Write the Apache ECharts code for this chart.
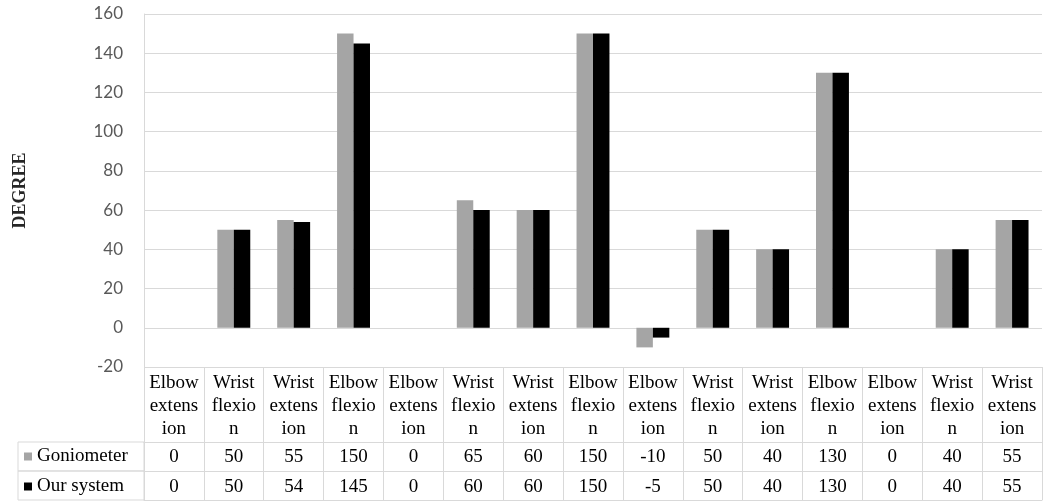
<!DOCTYPE html>
<html>
<head>
<meta charset="utf-8">
<script src="https://cdn.jsdelivr.net/npm/echarts@6/dist/echarts.min.js"></script>
<style>html,body{margin:0;padding:0;background:#fff}#c{width:1043px;height:501px}</style>
</head>
<body>
<div id="c"></div>
<script>
var categories = ["Elbow\nextens\nion","Wrist\nflexio\nn","Wrist\nextens\nion","Elbow\nflexio\nn","Elbow\nextens\nion","Wrist\nflexio\nn","Wrist\nextens\nion","Elbow\nflexio\nn","Elbow\nextens\nion","Wrist\nflexio\nn","Wrist\nextens\nion","Elbow\nflexio\nn","Elbow\nextens\nion","Wrist\nflexio\nn","Wrist\nextens\nion"];
var goniometer = [0,50,55,150,0,65,60,150,-10,50,40,130,0,40,55];
var ourSystem = [0,50,54,145,0,60,60,150,-5,50,40,130,0,40,55];
var seriesNames = ["Goniometer","Our system"];
var yTicks = {min:-20, max:160, interval:20};

var LINE = '#d9d9d9';
var SERIF = 'Liberation Serif';
var SANS = 'Lato';
var FS = 19;
var chart = echarts.init(document.getElementById('c'), null, {renderer:'canvas'});
var hiddenY = function(g){ return {type:'value', gridIndex:g, show:false}; };
function legendFor(name, top){
  return {
    data:[name], orient:'horizontal', left:24, top:top, icon:'rect',
    itemWidth:8, itemHeight:8, selectedMode:false, padding:0,
    textStyle:{fontFamily:SERIF, fontSize:FS, color:'#000'}
  };
}
var option = {
  animation:false,
  backgroundColor:'#fff',
  textStyle:{fontFamily:SERIF},
  legend:[legendFor(seriesNames[0], 447), legendFor(seriesNames[1], 477)],
  grid:[
    {left:144, right:1, top:14, height:353},
    {left:144, right:1, top:367, height:75},
    {left:144, right:1, top:442, height:29},
    {left:144, right:1, top:471, height:29},
    {left:18, width:126, top:442, height:29, show:true, borderColor:LINE, borderWidth:1, backgroundColor:'transparent'},
    {left:18, width:126, top:471, height:29, show:true, borderColor:LINE, borderWidth:1, backgroundColor:'transparent'}
  ],
  xAxis:[
    {type:'category', gridIndex:0, data:categories, axisLine:{show:false}, axisTick:{show:false}, axisLabel:{show:false}},
    {type:'category', gridIndex:1, data:categories, position:'top',
      axisLine:{show:true, lineStyle:{color:LINE}}, axisTick:{show:false},
      splitLine:{show:true, lineStyle:{color:LINE}},
      axisLabel:{inside:true, margin:5, verticalAlign:'top', lineHeight:23, fontFamily:SERIF, fontSize:FS, color:'#000', interval:0}},
    {type:'category', gridIndex:2, data:categories, position:'bottom',
      axisLine:{show:true, lineStyle:{color:LINE}}, axisTick:{show:false},
      splitLine:{show:true, lineStyle:{color:LINE}},
      axisLabel:{inside:true, margin:14, verticalAlign:'middle', fontFamily:SERIF, fontSize:FS, color:'#000', interval:0,
        formatter:function(v,i){return String(goniometer[i]);}}},
    {type:'category', gridIndex:2, data:categories, position:'top',
      axisLine:{show:true, lineStyle:{color:LINE}}, axisTick:{show:false}, axisLabel:{show:false}},
    {type:'category', gridIndex:3, data:categories, position:'bottom',
      axisLine:{show:true, lineStyle:{color:LINE}}, axisTick:{show:false},
      splitLine:{show:true, lineStyle:{color:LINE}},
      axisLabel:{inside:true, margin:13, verticalAlign:'middle', fontFamily:SERIF, fontSize:FS, color:'#000', interval:0,
        formatter:function(v,i){return String(ourSystem[i]);}}},
    {type:'value', gridIndex:4, show:false},
    {type:'value', gridIndex:5, show:false}
  ],
  yAxis:[
    {type:'value', gridIndex:0, min:yTicks.min, max:yTicks.max, interval:yTicks.interval,
      axisLine:{show:true, lineStyle:{color:LINE}}, axisTick:{show:false},
      splitLine:{show:true, lineStyle:{color:LINE}},
      axisLabel:{margin:21, fontFamily:SANS, fontSize:17, color:'#595959'},
      name:'DEGREE', nameLocation:'middle', nameGap:115,
      nameTextStyle:{fontFamily:SERIF, fontWeight:'bold', fontSize:18, color:'#262626'}},
    hiddenY(1), hiddenY(2), hiddenY(3), hiddenY(4), hiddenY(5)
  ],
  series:[
    {name:seriesNames[0], type:'bar', xAxisIndex:0, yAxisIndex:0, data:goniometer,
      barGap:'0%', barCategoryGap:'45%', itemStyle:{color:'#a5a5a5'}},
    {name:seriesNames[1], type:'bar', xAxisIndex:0, yAxisIndex:0, data:ourSystem,
      barGap:'0%', barCategoryGap:'45%', itemStyle:{color:'#000000'}}
  ]
};
chart.setOption(option);
</script>
</body>
</html>
